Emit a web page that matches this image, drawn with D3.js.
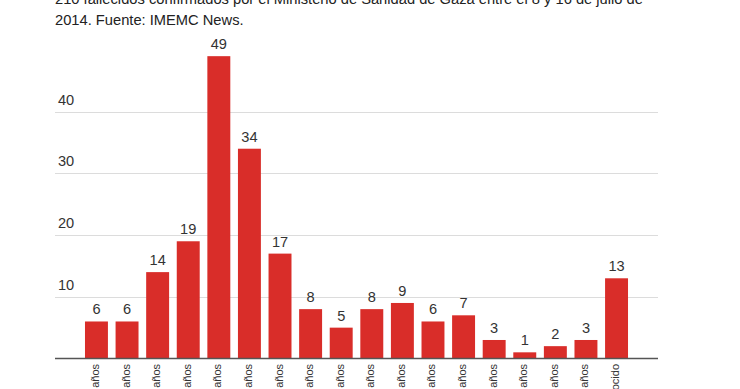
<!DOCTYPE html>
<html>
<head>
<meta charset="utf-8">
<script src="https://cdn.jsdelivr.net/npm/d3@7"></script>
<style>
  html, body { margin: 0; padding: 0; background: #fff; overflow: hidden; }
  svg { display: block; font-family: "Liberation Sans", Arial, Helvetica, sans-serif; }
</style>
</head>
<body>
<svg id="chart" width="740" height="389"></svg>
<script>
const titleLines = [
  "210 fallecidos confirmados por el Ministerio de Sanidad de Gaza entre el 8 y 16 de julio de",
  "2014. Fuente: IMEMC News."
];
const categories = [
  "0-4 años", "5-9 años", "10-14 años", "15-19 años", "20-24 años", "25-29 años",
  "30-34 años", "35-39 años", "40-44 años", "45-49 años", "50-54 años", "55-59 años",
  "60-64 años", "65-69 años", "70-74 años", "75-79 años", "80-84 años", "Desconocido"
];
const values = [6, 6, 14, 19, 49, 34, 17, 8, 5, 8, 9, 6, 7, 3, 1, 2, 3, 13];
const yTicks = [10, 20, 30, 40];

(function () {
const svg = d3.select("#chart");
const plotLeft = 55, plotRight = 658, plotBottom = 358.5, plotTop = 50;

const x = d3.scaleBand().domain(categories).range([plotLeft, plotRight])
  .paddingInner(0.25).paddingOuter(0.98);
const y = d3.scaleLinear().domain([0, 50]).range([plotBottom, plotTop]);

// title
svg.append("g").selectAll("text").data(titleLines).join("text")
  .attr("x", 55).attr("y", (d, i) => 4 + i * 21)
  .attr("font-size", 14.7).attr("fill", "#222")
  .text(d => d);

// gridlines
svg.append("g").selectAll("line").data(yTicks).join("line")
  .attr("x1", plotLeft).attr("x2", plotRight)
  .attr("y1", d => Math.round(y(d)) + 0.5).attr("y2", d => Math.round(y(d)) + 0.5)
  .attr("stroke", "#dcdcdc").attr("stroke-width", 1);

svg.append("g").selectAll("text").data(yTicks).join("text")
  .attr("x", 58).attr("y", d => y(d) - 7)
  .attr("font-size", 14.6).attr("fill", "#333")
  .text(d => d);

// bars
svg.append("g").selectAll("rect").data(values).join("rect")
  .attr("x", (d, i) => x(categories[i]))
  .attr("width", x.bandwidth())
  .attr("y", d => y(d))
  .attr("height", d => plotBottom - y(d))
  .attr("fill", "#d92d29");

// value labels
svg.append("g").selectAll("text").data(values).join("text")
  .attr("x", (d, i) => x(categories[i]) + x.bandwidth() / 2)
  .attr("y", d => y(d) - 7)
  .attr("text-anchor", "middle")
  .attr("font-size", 14.6).attr("fill", "#333")
  .text(d => d);

// baseline
svg.append("line")
  .attr("x1", plotLeft).attr("x2", plotRight)
  .attr("y1", plotBottom).attr("y2", plotBottom)
  .attr("stroke", "#555").attr("stroke-width", 1.5);

// x labels
svg.append("g").selectAll("text").data(categories).join("text")
  .attr("transform", d => `translate(${x(d) + x.bandwidth() / 2 + 2.5},364) rotate(-90)`)
  .attr("text-anchor", "end")
  .attr("font-size", 11).attr("fill", "#333")
  .text(d => d);
})();
</script>
</body>
</html>
